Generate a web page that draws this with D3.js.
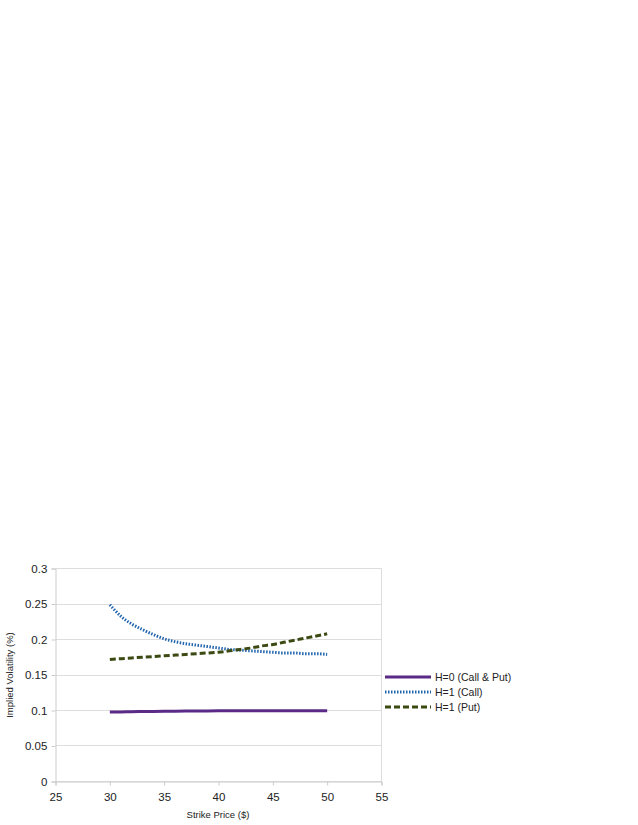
<!DOCTYPE html>
<html>
<head>
<meta charset="utf-8">
<script src="https://cdn.jsdelivr.net/npm/d3@7"></script>
<style>
  body { margin: 0; background: #fff; }
  text { font-family: "Liberation Sans", Arial, sans-serif; fill: #222; }
</style>
</head>
<body>
<div id="chart"></div>
<script>
var strikes = [30,31,32,33,34,35,36,37,38,39,40,41,42,43,44,45,46,47,48,49,50]
var h0 = [0.098,0.098,0.0983,0.0985,0.0987,0.099,0.0991,0.0992,0.0993,0.0994,0.0995,0.0995,0.0996,0.0996,0.0997,0.0997,0.0997,0.0997,0.0997,0.0997,0.0997]
var h1Call = [0.249,0.233,0.222,0.214,0.207,0.201,0.197,0.194,0.192,0.190,0.188,0.186,0.185,0.184,0.183,0.182,0.181,0.181,0.180,0.180,0.179]
var h1Put = [0.172,0.173,0.174,0.175,0.176,0.177,0.178,0.179,0.180,0.181,0.182,0.184,0.186,0.188,0.191,0.193,0.196,0.199,0.202,0.205,0.208]
var xTicks = [25,30,35,40,45,50,55]
var yTicks = [0,0.05,0.1,0.15,0.2,0.25,0.3]
var seriesNames = ['H=0 (Call & Put)','H=1 (Call)','H=1 (Put)']

var width = 638, height = 825
// plot frame (note: "top" is reserved on window, so use pl/pr/pt/pb)
var pl = 55.5, pr = 381.5, pt = 568.5, pb = 781.5

var svg = d3.select('#chart').append('svg')
  .attr('width',width).attr('height',height)

var x = d3.scaleLinear().domain([25,55]).range([pl,pr])
var y = d3.scaleLinear().domain([0,0.3]).range([pb,pt])

// grid
svg.append('g').selectAll('line').data(yTicks).join('line')
  .attr('x1',pl).attr('x2',pr)
  .attr('y1',d=>Math.round(y(d)-0.5)+0.5).attr('y2',d=>Math.round(y(d)-0.5)+0.5)
  .attr('stroke','#ddd')
svg.append('line').attr('x1',pr).attr('x2',pr).attr('y1',pt).attr('y2',pb).attr('stroke','#ddd')

var gx = svg.append('g').attr('transform',`translate(0,${pb})`)
  .call(d3.axisBottom(x).tickValues(xTicks).tickSize(4).tickFormat(d3.format('d')))
var gy = svg.append('g').attr('transform',`translate(${pl},0)`)
  .call(d3.axisLeft(y).tickValues(yTicks).tickSize(4).tickFormat(d=>d))
;[gx,gy].forEach(g=>{
  g.selectAll('path,line').attr('stroke','#ccc')
  g.selectAll('text').attr('font-size',11.5).style('fill','#222')
})
gx.selectAll('text').attr('dy','1.1em')
gy.selectAll('text').attr('dx','-0.1em')

svg.append('text').attr('x',218).attr('y',818).attr('text-anchor','middle')
  .attr('font-size',9.5).text('Strike Price ($)')
svg.append('text').attr('transform','translate(13,675) rotate(-90)').attr('text-anchor','middle')
  .attr('font-size',9.5).text('Implied Volatility (%)')

var line = d3.line().x((d,i)=>x(strikes[i])).y(d=>y(d)).curve(d3.curveMonotoneX)
var styles = [
  {data:h0,color:'#5a2a86',dash:null},
  {data:h1Call,color:'#2064ad',dash:'1.5,1.5'},
  {data:h1Put,color:'#3b4a12',dash:'6,3'}
]
styles.forEach(s=>{
  svg.append('path').attr('d',line(s.data)).attr('fill','none')
    .attr('stroke',s.color).attr('stroke-width',3)
    .attr('stroke-dasharray',s.dash)
})

var leg = svg.append('g')
seriesNames.forEach((n,i)=>{
  var yy = 677 + i*15
  leg.append('line').attr('x1',385).attr('x2',431).attr('y1',yy).attr('y2',yy)
    .attr('stroke',styles[i].color).attr('stroke-width',3)
    .attr('stroke-dasharray',styles[i].dash)
  leg.append('text').attr('x',435).attr('y',yy+4).attr('font-size',10.5).text(n)
})
</script>
</body>
</html>
